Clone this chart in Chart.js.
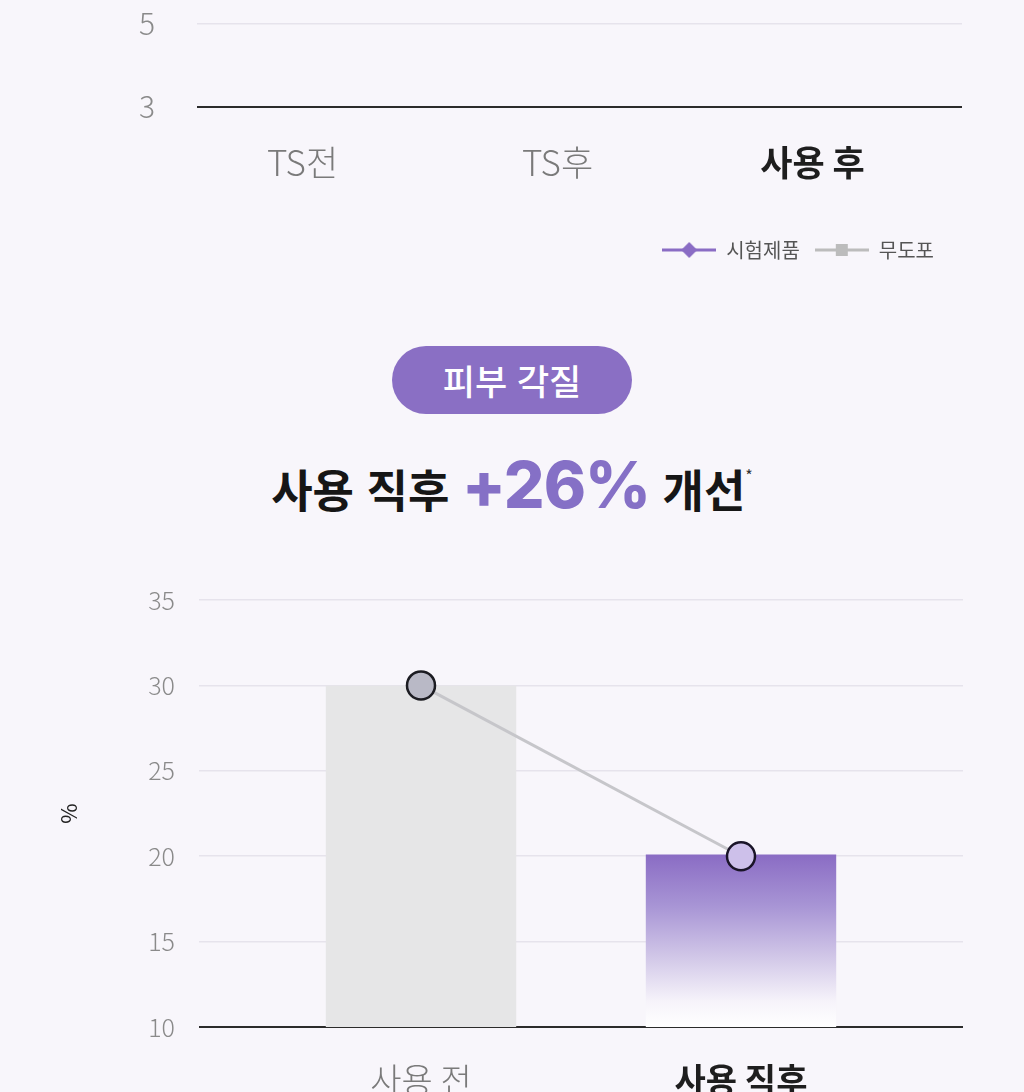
<!DOCTYPE html>
<html lang="ko">
<head>
<meta charset="utf-8">
<script src="https://cdn.jsdelivr.net/npm/chart.js@4/dist/chart.umd.min.js"></script>
<style>
  html, body { margin: 0; padding: 0; }
  body {
    width: 1024px; height: 1092px; overflow: hidden; position: relative;
    background: #f8f6fb;
    font-family: "Noto Sans CJK KR", "Noto Sans", sans-serif;
  }
  canvas { position: absolute; left: 0; }
  #topChart { top: 0; }
  #mainChart { top: 560px; }
  .pill {
    position: absolute; left: 392px; top: 346px; width: 240px; height: 68px;
    border-radius: 34px; background: #8a6fc4; color: #fff;
    font-size: 35px; font-weight: 500; line-height: 68px; text-align: center;
  }
  .headline {
    position: absolute; left: 0; width: 1024px; top: 435px; text-align: center;
    font-size: 45px; font-weight: 700; color: #161616; line-height: 80px; white-space: nowrap;
  }
  .headline .num { color: #8570c6; font-size: 64px; letter-spacing: -1px; font-family: "Inter", "Noto Sans CJK KR", sans-serif; font-weight: 800; }
  .headline sup { font-size: 16px; font-weight: 400; vertical-align: 26px; color: #333; }
</style>
</head>
<body>
<canvas id="topChart" width="1024" height="270"></canvas>
<div class="pill">피부 각질</div>
<div class="headline">사용 직후 <span class="num">+26%</span> 개선<sup>*</sup></div>
<canvas id="mainChart" width="1024" height="541"></canvas>
<script>
// upper chart (only its bottom edge is on screen)
var topLabels = ["TS전", "TS후", "사용 후"];
var topSeriesNames = ["시험제품", "무도포"];
var topTicks = [3, 5];
// the lines of the upper chart sit above the visible window, so no points show here
var topTestValues = [];
var topControlValues = [];

// 피부 각질 chart
var labels = ["사용 전", "사용 직후"];
var barValues = [30, 20.1];
var lineValues = [30, 20];
var yTicks = [10, 15, 20, 25, 30, 35];

var GRID = "#e6e3ec";
var DARK = "#2b2b2b";

// legend marker: short line with the point shape on it
function legendMark(color, shape) {
    var c = document.createElement("canvas");
    c.width = 54; c.height = 18;
    var g = c.getContext("2d");
    g.strokeStyle = color;
    g.lineWidth = 3;
    g.beginPath(); g.moveTo(0, 9); g.lineTo(54, 9); g.stroke();
    g.fillStyle = color;
    if (shape == "diamond") {
        g.beginPath(); g.moveTo(27, 1); g.lineTo(35, 9); g.lineTo(27, 17); g.lineTo(19, 9); g.closePath(); g.fill();
    } else {
        g.fillRect(21, 3, 12, 12);
    }
    return c;
}

var legendShift = {
    id: "legendShift",
    afterLayout: function(chart) {
        if (chart.legend) { chart.legend.right -= 13; }
    }
};

new Chart(document.getElementById("topChart"), {
    type: "line",
    data: {
        labels: topLabels,
        datasets: [
            { label: topSeriesNames[0], data: topTestValues, borderColor: "#8a6cc4", backgroundColor: "#8a6cc4", pointStyle: legendMark("#8a6cc4", "diamond") },
            { label: topSeriesNames[1], data: topControlValues, borderColor: "#bcbcbc", backgroundColor: "#bcbcbc", pointStyle: legendMark("#bcbcbc", "square") }
        ]
    },
    options: {
        responsive: false,
        animation: false,
        devicePixelRatio: 1,
        layout: { padding: { top: 24, right: 62, left: 0, bottom: 0 } },
        plugins: {
            tooltip: { enabled: false },
            legend: {
                position: "bottom",
                align: "end",
                labels: {
                    usePointStyle: true,
                    pointStyleWidth: 54,
                    padding: 15,
                    color: "#555",
                    font: { family: "Noto Sans CJK KR", size: 20 }
                }
            }
        },
        scales: {
            x: {
                offset: true,
                afterFit: function(scale) { scale.height = 118; },
                grid: { display: false, drawTicks: false },
                border: { display: false },
                ticks: {
                    padding: 35,
                    labelOffset: -22,
                    color: function(ctx) { return ctx.index == 2 ? "#1e1e1e" : "#7a7a7a"; },
                    font: function(ctx) {
                        return { family: "Noto Sans CJK KR", size: 35, weight: ctx.index == 2 ? "bold" : "300" };
                    }
                }
            },
            y: {
                min: 3,
                max: 5,
                afterFit: function(scale) { scale.width = 197; },
                afterBuildTicks: function(scale) { scale.ticks = topTicks.map(function(v) { return { value: v }; }); },
                border: { display: false },
                grid: {
                    tickLength: 42,
                    tickColor: "rgba(0,0,0,0)",
                    color: function(ctx) { return ctx.tick && ctx.tick.value == 3 ? DARK : GRID; },
                    lineWidth: function(ctx) { return ctx.tick && ctx.tick.value == 3 ? 2 : 1.5; }
                },
                ticks: { padding: 0, color: "#8a8a8a", font: { family: "Noto Sans CJK KR", size: 30, weight: "300" } }
            }
        }
    },
    plugins: [legendShift]
});

// second bar fades from purple to white toward the baseline
function barFill(ctx) {
    if (ctx.dataIndex == 0) return "#e6e6e7";
    var chart = ctx.chart;
    var area = chart.chartArea;
    if (!area) return "#8a6cc4";
    var top = chart.scales.y.getPixelForValue(barValues[1]);
    var g = chart.ctx.createLinearGradient(0, top, 0, area.bottom);
    g.addColorStop(0, "#8a6cc4");
    g.addColorStop(0.3, "#a895d5");
    g.addColorStop(0.6, "#d2c8e8");
    g.addColorStop(0.85, "#f6f3fa");
    g.addColorStop(1, "#ffffff");
    return g;
}

new Chart(document.getElementById("mainChart"), {
    data: {
        labels: labels,
        datasets: [
            {
                type: "line",
                data: lineValues,
                order: 0,
                borderColor: "#c6c6ca",
                borderWidth: 3,
                pointRadius: 14,
                pointBorderWidth: 2.5,
                pointBackgroundColor: ["#b9b9c6", "#cdc0ea"],
                pointBorderColor: ["#1c1c22", "#1a1428"]
            },
            {
                type: "bar",
                data: barValues,
                order: 1,
                backgroundColor: barFill,
                barPercentage: 0.595,
                categoryPercentage: 1
            }
        ]
    },
    options: {
        responsive: false,
        animation: false,
        devicePixelRatio: 1,
        layout: { padding: { top: 40, left: 51, right: 61, bottom: 0 } },
        plugins: { legend: { display: false }, tooltip: { enabled: false } },
        scales: {
            x: {
                z: 1,
                afterFit: function(scale) { scale.height = 74; },
                grid: { display: false, drawTicks: false },
                border: { display: true, color: DARK, width: 2 },
                ticks: {
                    padding: 33,
                    color: function(ctx) { return ctx.index == 1 ? "#1e1e1e" : "#7a7a7a"; },
                    font: function(ctx) {
                        return { family: "Noto Sans CJK KR", size: 34, weight: ctx.index == 1 ? "bold" : "300" };
                    }
                }
            },
            y: {
                min: 10,
                max: 35,
                afterFit: function(scale) { scale.width = 210; },
                afterBuildTicks: function(scale) { scale.ticks = yTicks.map(function(v) { return { value: v }; }); },
                border: { display: false },
                title: { display: true, text: "%", color: "#222", font: { family: "Noto Sans CJK KR", size: 22 }, padding: { top: 4, bottom: 4 } },
                grid: {
                    tickLength: 62,
                    color: function(ctx) { return ctx.tick && ctx.tick.value == 10 ? DARK : GRID; },
                    lineWidth: function(ctx) { return ctx.tick && ctx.tick.value == 10 ? 2 : 1.5; }
                },
                ticks: { padding: 24, color: "#8a8a8a", font: { family: "Noto Sans CJK KR", size: 25, weight: "300" } }
            },
            // right-hand twin axis only stretches the gridlines past the plot, like the original
            y2: {
                position: "right",
                min: 10,
                max: 35,
                afterFit: function(scale) { scale.width = 62; },
                afterBuildTicks: function(scale) { scale.ticks = yTicks.map(function(v) { return { value: v }; }); },
                border: { display: false },
                grid: {
                    drawOnChartArea: false,
                    tickLength: 62,
                    color: function(ctx) { return ctx.tick && ctx.tick.value == 10 ? DARK : GRID; },
                    lineWidth: function(ctx) { return ctx.tick && ctx.tick.value == 10 ? 2 : 1.5; }
                },
                ticks: { display: false }
            }
        }
    }
});
</script>
</body>
</html>
